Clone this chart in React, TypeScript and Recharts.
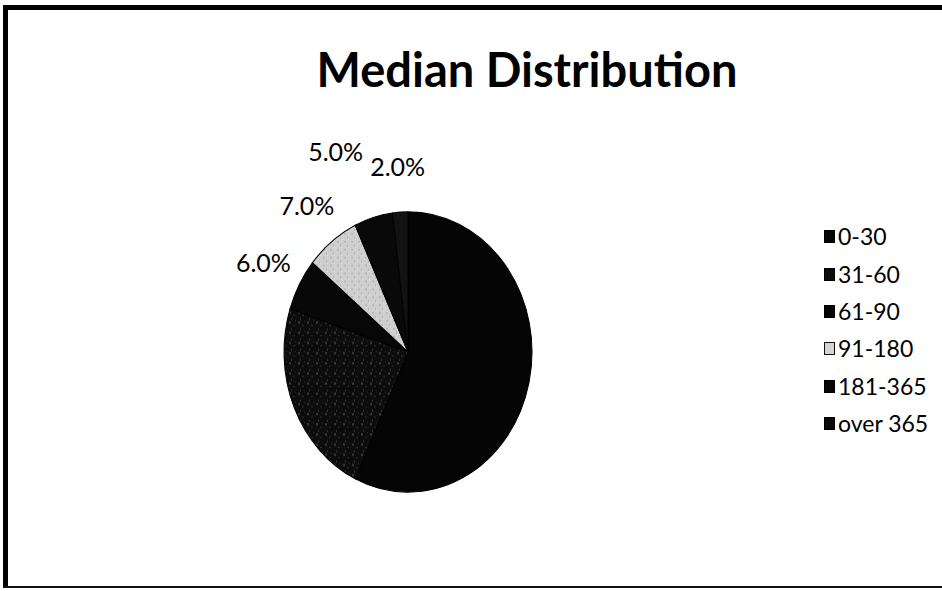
import React from 'react';
import { PieChart, Pie, Cell, Legend } from 'recharts';

// ---- data ----
const categories = ['0-30', '31-60', '61-90', '91-180', '181-365', 'over 365'];
const shares = [57, 23, 6, 7, 5, 2];
const chartTitle = 'Median Distribution';

// ---- styles ----
const sliceFills = ['#050505', 'url(#speckleDark)', '#070707', 'url(#speckleLight)', '#090909', '#121212'];
const legendFills = ['#060606', '#0d0d0d', '#060606', '#d4d4d4', '#060606', '#0a0a0a'];
const legendBorders = ['#000', '#000', '#000', '#111', '#000', '#000'];

const data = categories.map((name, i) => ({ name, value: shares[i] }));
const total = shares.reduce((a, b) => a + b, 0);

const CX = 408;
const CY = 352;
const R = 124;
const SY = 1.13; // vertical stretch of the pie (it is drawn as an ellipse)
const RAD = Math.PI / 180;
const LABEL_GAP = 41;
const LW = 62;
const LH = 22;
const SMALL = 10;
const FONT = 'Lato, "Open Sans", "Noto Sans", sans-serif';

function pt(cx: number, cy: number, angle: number, r: number) {
  return { x: cx + r * Math.cos(angle * RAD), y: cy - r * SY * Math.sin(angle * RAD) };
}

const renderLabel = (props: any) => {
  const { cx, cy, midAngle, endAngle, outerRadius, index, value } = props;
  if (value >= SMALL) return null;
  const L = outerRadius + LABEL_GAP;
  let p = pt(cx, cy, midAngle, L);
  const n = index + 1;
  if (n < shares.length && shares[n] < SMALL) {
    const nextMid = endAngle - ((shares[n] / total) * 360) / 2;
    const q = pt(cx, cy, nextMid, L);
    if (Math.abs(p.x - q.x) < LW && Math.abs(p.y - q.y) < LH) {
      // stagger the colliding label sideways and upwards
      p = { x: q.x + (p.x < q.x ? -LW : LW), y: p.y - LH };
    }
  }
  return (
    <text
      key={`lbl-${index}`}
      x={p.x}
      y={p.y}
      textAnchor="middle"
      dominantBaseline="central"
      fill="#000"
      fontSize={25}
      fontFamily={FONT}
    >
      {`${Number(value).toFixed(1)}%`}
    </text>
  );
};

const renderLegend = (props: any) => {
  const payload = [...(props.payload || [])].sort(
    (a: any, b: any) => categories.indexOf(a.value) - categories.indexOf(b.value)
  );
  return (
    <div style={{ fontFamily: FONT, fontSize: 23, color: '#000' }}>
      {payload.map((entry: any) => {
        const i = categories.indexOf(entry.value);
        return (
          <div key={entry.value} style={{ display: 'flex', alignItems: 'center', height: 37.4 }}>
            <span
              style={{
                display: 'inline-block',
                width: 11,
                height: 13,
                background: legendFills[i],
                border: `1.5px solid ${legendBorders[i]}`,
                boxSizing: 'border-box',
                marginRight: 3,
              }}
            />
            <span style={{ lineHeight: '23px' }}>{entry.value}</span>
          </div>
        );
      })}
    </div>
  );
};

export default function App() {
  return (
    <div style={{ position: 'absolute', left: 0, top: 0, width: 942, height: 591, background: '#fff', overflow: 'hidden' }}>
      <style>{`.ellipse-pie path.recharts-sector { transform: translate(0px, ${CY}px) scale(1, ${SY}) translate(0px, -${CY}px); }`}</style>
      {/* frame */}
      <div style={{ position: 'absolute', left: 3, top: 5, width: 5, height: 583, background: '#000' }} />
      <div style={{ position: 'absolute', left: 3, top: 5, width: 939, height: 5, background: '#000' }} />
      <div style={{ position: 'absolute', left: 3, top: 586, width: 939, height: 2, background: '#111' }} />
      {/* title */}
      <div
        style={{
          position: 'absolute',
          left: 0,
          top: 46,
          width: 1054,
          textAlign: 'center',
          fontFamily: FONT,
          fontWeight: 700,
          fontSize: 47,
          lineHeight: '47px',
          color: '#000',
        }}
      >
        {chartTitle}
      </div>
      <div className="ellipse-pie" style={{ position: 'absolute', left: 0, top: 0 }}>
        <PieChart width={942} height={591} margin={{ top: 0, right: 0, bottom: 0, left: 0 }} style={{ fontFamily: FONT }}>
          <defs>
            <pattern id="speckleDark" width="9" height="9" patternUnits="userSpaceOnUse">
              <rect width="9" height="9" fill="#0c0c0c" />
              <rect x="1" y="1" width="2" height="2" fill="#3a3a3a" />
              <rect x="5" y="4" width="2" height="1" fill="#2e2e2e" />
              <rect x="3" y="7" width="1" height="2" fill="#333" />
              <rect x="7" y="0" width="1" height="1" fill="#2a2a2a" />
            </pattern>
            <pattern id="speckleLight" width="7" height="7" patternUnits="userSpaceOnUse">
              <rect width="7" height="7" fill="#cfcfcf" />
              <rect x="1" y="2" width="2" height="1" fill="#a9a9a9" />
              <rect x="4" y="5" width="1" height="2" fill="#b2b2b2" />
              <rect x="5" y="0" width="1" height="1" fill="#e4e4e4" />
            </pattern>
          </defs>
          <Pie
            data={data}
            dataKey="value"
            nameKey="name"
            cx={CX}
            cy={CY}
            outerRadius={R}
            startAngle={90}
            endAngle={-270}
            stroke="#000"
            strokeWidth={1}
            label={renderLabel}
            labelLine={false}
            isAnimationActive={false}
          >
            {data.map((d, i) => (
              <Cell key={d.name} fill={sliceFills[i]} />
            ))}
          </Pie>
          <Legend
            layout="vertical"
            verticalAlign="top"
            align="right"
            content={renderLegend}
            wrapperStyle={{ position: 'absolute', left: 824, top: 218, width: 118 }}
          />
        </PieChart>
      </div>
    </div>
  );
}
